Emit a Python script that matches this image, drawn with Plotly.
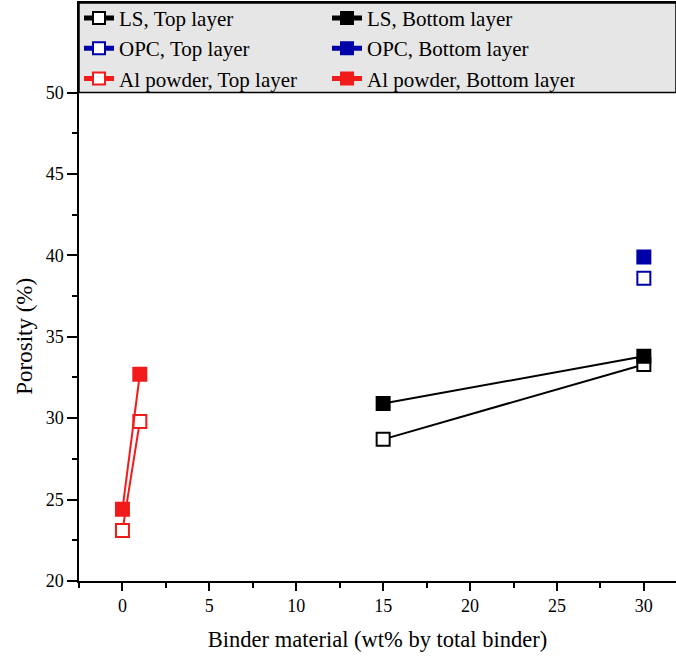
import plotly.graph_objects as go

# Data
ls_x = [15, 30]
ls_top = [28.7, 33.3]
ls_bottom = [30.9, 33.8]
opc_x = [30]
opc_top = [38.6]
opc_bottom = [39.9]
al_x = [0, 1]
al_top = [23.1, 29.8]
al_bottom = [24.4, 32.7]

BLACK = "#000000"
BLUE = "#0000a8"
RED = "#f21b1b"
FONT = "Liberation Serif"

fig = go.Figure()

def add(x, y, name, color, filled):
    fig.add_trace(go.Scatter(
        x=x, y=y, name=name, mode="lines+markers",
        line=dict(color=color, width=2),
        marker=dict(symbol="square", size=13,
                    color=color if filled else "white",
                    line=dict(color=color, width=2)),
    ))

add(ls_x, ls_top, "LS, Top layer", BLACK, False)
add(ls_x, ls_bottom, "LS, Bottom layer", BLACK, True)
add(opc_x, opc_top, "OPC, Top layer", BLUE, False)
add(opc_x, opc_bottom, "OPC, Bottom layer", BLUE, True)
add(al_x, al_top, "Al powder, Top layer", RED, False)
add(al_x, al_bottom, "Al powder, Bottom layer", RED, True)

YMAX = 55.5
fig.add_shape(type="rect", xref="paper", yref="y", x0=0, x1=1, y0=50, y1=YMAX,
              fillcolor="#e6e6e6", line=dict(color="black", width=1.5), layer="below")

fig.add_annotation(text="Porosity (%)", xref="paper", yref="y", x=0, y=35,
                   xanchor="center", yanchor="middle",
                   xshift=-54, textangle=-90, showarrow=False,
                   font=dict(family=FONT, size=23, color="black"))

fig.update_layout(
    width=676, height=664,
    margin=dict(l=79, r=0, t=3, b=83, autoexpand=False),
    paper_bgcolor="white", plot_bgcolor="white",
    font=dict(family=FONT, size=18, color="black"),
    showlegend=True,
    legend=dict(
        orientation="h", x=0.0, y=1.009, xanchor="left", yanchor="top",
        bgcolor="rgba(0,0,0,0)", borderwidth=0,
        font=dict(family=FONT, size=21, color="black"),
        entrywidth=203, entrywidthmode="pixels",
        tracegroupgap=0, itemsizing="constant",
    ),
    xaxis=dict(
        range=[-2.5, 31.85], tickvals=[0, 5, 10, 15, 20, 25, 30],
        ticks="outside", ticklen=8, tickwidth=1.5, tickcolor="black",
        minor=dict(tickvals=[-2.5, 2.5, 7.5, 12.5, 17.5, 22.5, 27.5], ticks="outside",
                   ticklen=5, tickwidth=1.5, tickcolor="black"),
        showline=True, linecolor="black", linewidth=1.5, mirror=True,
        showgrid=False, zeroline=False,
        title=dict(text="Binder material (wt% by total binder)", font=dict(size=22.5), standoff=16),
        tickfont=dict(size=18),
    ),
    yaxis=dict(
        range=[20, YMAX], tickvals=[20, 25, 30, 35, 40, 45, 50],
        ticks="outside", ticklen=10, tickwidth=1.5, tickcolor="black",
        minor=dict(tickvals=[22.5, 27.5, 32.5, 37.5, 42.5, 47.5], ticks="outside",
                   ticklen=5, tickwidth=1.5, tickcolor="black"),
        showline=True, linecolor="black", linewidth=1.5, mirror=True,
        showgrid=False, zeroline=False,
        tickfont=dict(size=18),
    ),
)

fig.write_html("out.html")
